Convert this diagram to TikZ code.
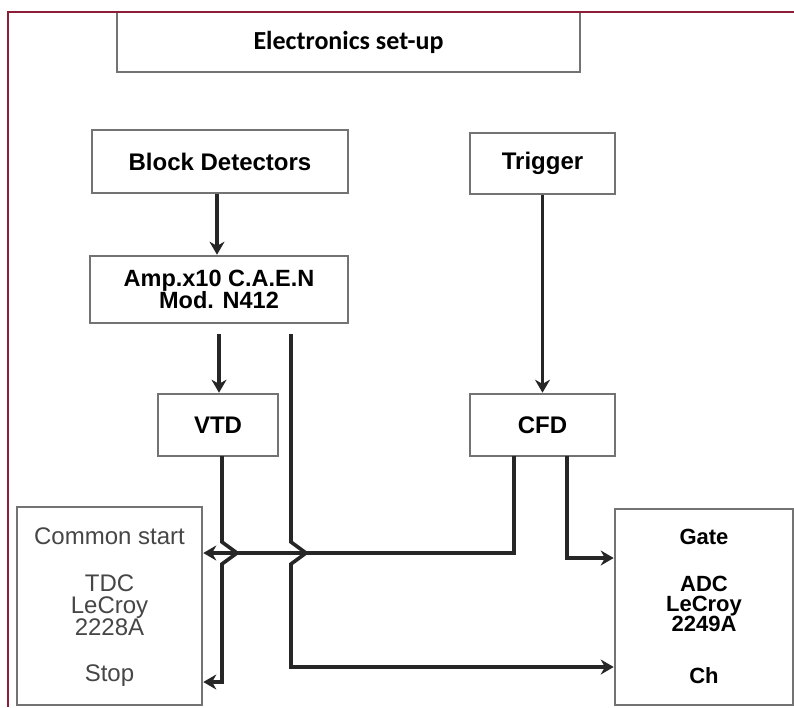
\documentclass[tikz,border=0pt]{standalone}
\usepackage{fontspec}
\setmainfont{Liberation Sans}
\newfontfamily\calibri{Carlito}
\usetikzlibrary{arrows.meta}
\definecolor{framecol}{RGB}{140,30,55}
\definecolor{boxcol}{RGB}{115,115,115}
\definecolor{lightlabel}{RGB}{70,70,70}
\tikzset{
  blk/.style={draw=boxcol, line width=2.6pt, fill=white, inner sep=0pt, align=center,
    font=\fontsize{24}{22}\selectfont\bfseries},
  conn/.style={draw=black!85, line width=3.6pt},
  arr/.style={conn, -{Stealth[length=13pt,width=15pt]}},
  lbl/.style={inner sep=0pt, align=center, font=\fontsize{22}{20}\selectfont\bfseries},
  glbl/.style={inner sep=0pt, align=center, text=lightlabel, font=\fontsize{24}{22}\selectfont}
}
\begin{document}
\begin{tikzpicture}[x=1pt,y=-1pt]
\useasboundingbox (0,0) rectangle (794,707);
\fill[white] (0,0) rectangle (794,707);

% boxes
\node[blk, minimum width=463pt, minimum height=60pt, font=\fontsize{26}{26}\selectfont\calibri\bfseries] (title) at (348.5,42) {Electronics set-up};
\node[blk, minimum width=256pt, minimum height=63pt] (bd) at (220,161.5) {Block Detectors};
\node[blk, minimum width=145pt, minimum height=61pt] (trig) at (542.5,163.5) {Trigger};
\node[blk, minimum width=258pt, minimum height=67pt, font=\fontsize{23.5}{22}\selectfont\bfseries] (amp) at (219,289.5) {Amp.x10 C.A.E.N\\Mod. N412};
\node[blk, minimum width=120pt, minimum height=62pt] (vtd) at (218,425) {VTD};
\node[blk, minimum width=145pt, minimum height=62pt] (cfd) at (542.5,425) {CFD};
\node[blk, minimum width=185pt, minimum height=198pt] (tdc) at (109.5,606) {};
\node[blk, minimum width=178pt, minimum height=196pt] (adc) at (704,607) {};

% labels inside TDC and ADC
\node[glbl] (cs) at (109.5,536) {Common start};
\node[glbl] (tdctxt) at (109.5,605) {TDC\\LeCroy\\2228A};
\node[glbl] (stop) at (109.5,676) {Stop};
\node[lbl] (gate) at (704,537) {Gate};
\node[lbl] (adctxt) at (704,604) {ADC\\LeCroy\\2249A};
\node[lbl] (ch) at (704,676) {Ch};

% frame
\draw[framecol, line width=2.8pt] (8,707) -- (8,12) -- (794,12);

% coordinates
\coordinate (ampA) at (219,334);
\coordinate (ampB) at (291,334);
\coordinate (vtdB) at (222,456);
\coordinate (cfdL) at (514,456);
\coordinate (cfdR) at (567,456);

% connectors
\draw[arr] (bd.south -| 217,0) -- (amp.north -| 217,0);
\draw[arr] (ampA) -- (vtd.north -| ampA);
\draw[arr] (trig.south) -- (cfd.north);

% CFD -> common start
\draw[arr] (cfdL) -- (514,553) -- (tdc.east |- 0,553);
% CFD -> gate
\draw[arr] (cfdR) -- (567,558) -- (adc.west |- 0,558);
% VTD -> stop (with hop)
\draw[arr] (vtdB) -- (222,542) -- (237,553) -- (222,564) -- (222,682) -- (tdc.east |- 0,682);
% Amp -> Ch (with hop)
\draw[arr] (ampB) -- (291,542) -- (306,553) -- (291,564) -- (291,667) -- (adc.west |- 0,667);
\end{tikzpicture}
\end{document}
